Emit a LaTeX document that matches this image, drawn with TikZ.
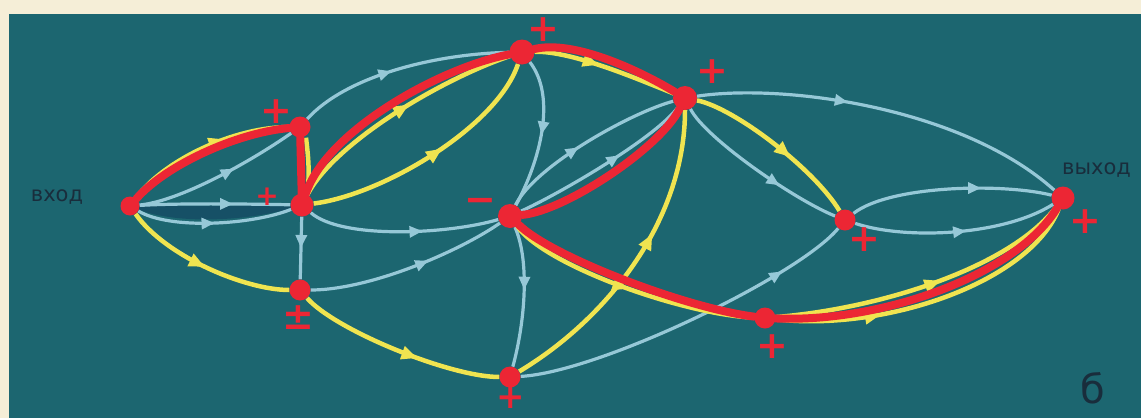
\documentclass[tikz,border=0pt]{standalone}
\usepackage{fontspec}
\setmainfont{DejaVu Sans}
\usetikzlibrary{arrows.meta,decorations.markings}
\definecolor{bgteal}{RGB}{28,102,112}
\definecolor{cream}{RGB}{245,238,215}
\definecolor{lblue}{RGB}{150,200,215}
\definecolor{lyellow}{RGB}{240,228,80}
\definecolor{lred}{RGB}{236,38,52}
\definecolor{darktxt}{RGB}{25,45,60}
\definecolor{lensdark}{RGB}{22,80,102}
\pgfdeclarelayer{bg}
\pgfdeclarelayer{edges}
\pgfsetlayers{bg,edges,main}
\begin{document}
\begin{tikzpicture}[x=1pt,y=-1pt,
  dot/.style={circle,fill=lred,inner sep=0pt,minimum size=#1},
  dot/.default=21pt,
  blueedge/.style={draw=lblue,line width=3.2pt},
  yellowedge/.style={draw=lyellow,line width=4.5pt},
  rededge/.style={draw=lred,line width=8pt,line cap=round},
  bmid/.style={postaction={decorate},decoration={markings,mark=at position #1 with {\arrow{Triangle[length=13pt,width=11pt]}}}},
  ymid/.style={postaction={decorate},decoration={markings,mark=at position #1 with {\arrow{Triangle[length=16pt,width=13pt]}}}},
  sign/.style={text=lred,font=\fontsize{38}{38}\bfseries\selectfont,inner sep=0pt},
  smallsign/.style={sign,font=\fontsize{28}{28}\bfseries\selectfont},
  iolabel/.style={text=darktxt,font=\fontsize{21}{21}\selectfont,inner sep=0pt},
  bigletter/.style={text=darktxt,font=\fontsize{40}{40}\selectfont,inner sep=0pt}
]
\useasboundingbox (0,0) rectangle (1141,418);
\begin{pgfonlayer}{bg}
  \fill[cream] (0,0) rectangle (1141,418);
  \fill[bgteal] (9,14) rectangle (1141,418);
\end{pgfonlayer}
\clip (0,0) rectangle (1141,418);

% nodes
\node[dot=19pt] (A) at (130,206) {};
\node[dot] (B) at (300,127) {};
\node[dot=23pt] (C) at (302,205) {};
\node[dot] (D) at (300,290) {};
\node[dot=25pt] (E) at (522,52) {};
\node[dot=24pt] (F) at (510,216) {};
\node[dot] (G) at (510,377) {};
\node[dot=24pt] (H) at (685,98) {};
\node[dot] (I) at (845,220) {};
\node[dot] (J) at (765,318) {};
\node[dot=23pt] (K) at (1063,198) {};

\begin{pgfonlayer}{edges}
  % dark lens between the two A-C connectors
  \fill[lensdark] (A.center) .. controls (180,205) and (252,206) .. (C.center)
        .. controls (252,222) and (170,226) .. (A.center);
  % light blue connectors
  \draw[blueedge,bmid=0.62] (A) .. controls +(50,-3) and +(-50,-1) .. (C);
  \draw[blueedge,bmid=0.5] (A) .. controls +(40,24) and +(-50,20) .. (C);
  \draw[blueedge,bmid=0.6] (A) .. controls +(50,-5) and +(-50,35) .. (B);
  \draw[blueedge,bmid=0.45] (B) .. controls +(45,-50) and +(-90,2) .. (E);
  \draw[blueedge,bmid=0.5] (C) -- (D);
  \draw[blueedge,bmid=0.6] (C) .. controls +(40,35) and +(-60,18) .. (F);
  \draw[blueedge,bmid=0.6] (D) .. controls +(70,0) and +(-50,35) .. (F);
  \draw[blueedge,bmid=0.5] (E) .. controls +(35,45) and +(30,-55) .. (F);
  \draw[blueedge,bmid=0.45] (F) .. controls +(25,-50) and +(-55,15) .. (H);
  \draw[blueedge,bmid=0.6] (F) .. controls +(45,-20) and +(-32,42) .. (H);
  \draw[blueedge,bmid=0.45] (F) .. controls +(20,45) and +(15,-55) .. (G);
  \draw[blueedge,bmid=0.8] (G) .. controls +(90,-5) and +(-45,55) .. (I);
  \draw[blueedge,bmid=0.4] (H) .. controls +(100,-15) and +(-100,-90) .. (K);
  \draw[blueedge,bmid=0.65] (H) .. controls +(20,40) and +(-50,-20) .. (I);
  \draw[blueedge,bmid=0.65] (I) .. controls +(45,-35) and +(-60,-15) .. (K);
  \draw[blueedge,bmid=0.55] (I) .. controls +(60,20) and +(-60,38) .. (K);
  % yellow connectors
  \draw[yellowedge,ymid=0.62] (A) .. controls +(35,-47) and +(-65,0) .. (B);
  \draw[yellowedge] ([xshift=6pt]B.south) .. controls +(3,25) and +(1,-25) .. ([xshift=6pt]C.north);
  \draw[yellowedge,ymid=0.55] (C) .. controls +(33,-63) and +(-80,27) .. (E);
  \draw[yellowedge,ymid=0.55] (C) .. controls +(80,-10) and +(-25,75) .. (E);
  \draw[yellowedge,ymid=0.5] (A) .. controls +(35,50) and +(-55,0) .. (D);
  \draw[yellowedge,ymid=0.6] (D) .. controls +(35,40) and +(-60,0) .. (G);
  \draw[yellowedge,ymid=0.45] (E) .. controls +(50,-1) and +(-50,-20) .. (H);
  \draw[yellowedge,ymid=0.6] (G) .. controls +(100,-60) and +(0,120) .. (H);
  \draw[yellowedge,ymid=0.6] (H) .. controls +(50,10) and +(-30,-50) .. (I);
  \draw[yellowedge,ymid=0.5] (F) .. controls +(35,50) and +(-80,-3) .. (J);
  \draw[yellowedge,ymid=0.55] (J) .. controls +(120,-10) and +(-52,68) .. (K);
  \draw[yellowedge,ymid=0.33] (J) .. controls +(120,14) and +(-33,84) .. (K);
  % red path
  \draw[rededge] (A) .. controls +(35,-40) and +(-65,6) .. (B);
  \draw[rededge] (B) -- (C);
  \draw[rededge] (C) .. controls +(25,-75) and +(-80,15) .. (E);
  \draw[rededge] (E) .. controls +(50,-12) and +(-50,-30) .. (H);
  \draw[rededge] (F) .. controls +(55,-5) and +(-25,50) .. (H);
  \draw[rededge] (F) .. controls +(40,40) and +(-80,-10) .. (J);
  \draw[rededge] (J) .. controls +(120,5) and +(-45,75) .. (K);
\end{pgfonlayer}

% signs
\node[sign] (sB) at (276,112) {+};
\node[smallsign] (sC) at (267,197) {+};
\node[sign] (sD) at (298,318) {±};
\node[sign] (sE) at (543,30) {+};
\node[sign] (sH) at (712,72) {+};
\node[sign] (sF) at (480,205) {−};
\node[sign,font=\fontsize{34}{34}\bfseries\selectfont] (sG) at (511,398) {+};
\node[sign] (sJ) at (772,347) {+};
\node[sign] (sI) at (864,240) {+};
\node[sign] (sK) at (1085,222) {+};

% labels
\node[iolabel] (in) at (57,197) {вход};
\node[iolabel,anchor=west] (out) at (1062,170) {выход};
\node[bigletter] (letter) at (1093,388) {б};
\end{tikzpicture}
\end{document}
